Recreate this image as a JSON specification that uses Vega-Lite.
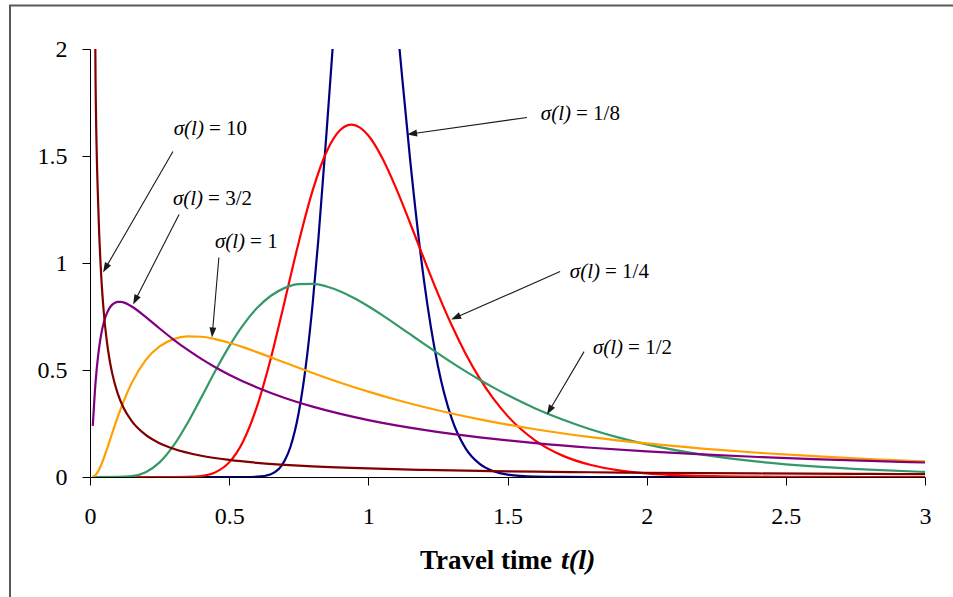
{
  "$schema": "https://vega.github.io/schema/vega-lite/v6.json",
  "autosize": {"type": "none"},
  "padding": {"left": 90, "top": 49, "right": 28, "bottom": 120},
  "width": 835,
  "height": 428,
  "background": "white",
  "config": {
    "view": {"stroke": null},
    "axis": {"grid": false, "domainColor": "black", "tickColor": "black", "tickSize": 8, "labelFont": "Liberation Serif", "labelFontSize": 24, "labelColor": "black", "domainWidth": 1, "tickWidth": 1, "labelFlush": false, "labelOverlap": false}
  },
  "datasets": {
    "frame": [{"x": -0.2874, "x2": 3.2, "y": 2.203, "y2": -0.7}],
    "curves": [
      {"s":"1/8","x":0.01,"y":0},{"s":"1/8","x":0.5,"y":0},{"s":"1/8","x":0.55,"y":0.00006},{"s":"1/8","x":0.6,"y":0.0013},{"s":"1/8","x":0.65,"y":0.0129},{"s":"1/8","x":0.7,"y":0.0778},{"s":"1/8","x":0.72,"y":0.1403},{"s":"1/8","x":0.75,"y":0.3012},{"s":"1/8","x":0.78,"y":0.5676},{"s":"1/8","x":0.8,"y":0.8108},{"s":"1/8","x":0.82,"y":1.1038},{"s":"1/8","x":0.85,"y":1.6126},{"s":"1/8","x":0.87,"y":1.9722},{"s":"1/8","x":0.88,"y":2.1499},{"s":"1/8","x":0.9,"y":2.486},{"s":"1/8","x":0.95,"y":3.0883},{"s":"1/8","x":1.0,"y":3.1915},{"s":"1/8","x":1.05,"y":2.8167},{"s":"1/8","x":1.08,"y":2.4449},{"s":"1/8","x":1.1,"y":2.1695},{"s":"1/8","x":1.12,"y":1.8893},{"s":"1/8","x":1.15,"y":1.4853},{"s":"1/8","x":1.2,"y":0.918},{"s":"1/8","x":1.25,"y":0.5189},{"s":"1/8","x":1.3,"y":0.2713},{"s":"1/8","x":1.35,"y":0.1325},{"s":"1/8","x":1.4,"y":0.0609},{"s":"1/8","x":1.45,"y":0.0265},{"s":"1/8","x":1.5,"y":0.011},{"s":"1/8","x":1.6,"y":0.0017},{"s":"1/8","x":1.7,"y":0.0002},{"s":"1/8","x":1.8,"y":0},{"s":"1/8","x":3.0,"y":0},
      {"s":"1/4","x":0.01,"y":0},{"s":"1/4","x":0.25,"y":0},{"s":"1/4","x":0.3,"y":0.00005},{"s":"1/4","x":0.35,"y":0.0007},{"s":"1/4","x":0.4,"y":0.0048},{"s":"1/4","x":0.45,"y":0.0216},{"s":"1/4","x":0.5,"y":0.0683},{"s":"1/4","x":0.55,"y":0.1663},{"s":"1/4","x":0.6,"y":0.3299},{"s":"1/4","x":0.65,"y":0.5561},{"s":"1/4","x":0.7,"y":0.8241},{"s":"1/4","x":0.75,"y":1.0974},{"s":"1/4","x":0.8,"y":1.3393},{"s":"1/4","x":0.85,"y":1.5198},{"s":"1/4","x":0.9,"y":1.6224},{"s":"1/4","x":0.94,"y":1.6464},{"s":"1/4","x":0.97,"y":1.6329},{"s":"1/4","x":1.0,"y":1.5958},{"s":"1/4","x":1.05,"y":1.4911},{"s":"1/4","x":1.1,"y":1.349},{"s":"1/4","x":1.15,"y":1.1869},{"s":"1/4","x":1.2,"y":1.0193},{"s":"1/4","x":1.25,"y":0.8571},{"s":"1/4","x":1.3,"y":0.7077},{"s":"1/4","x":1.35,"y":0.5751},{"s":"1/4","x":1.4,"y":0.4608},{"s":"1/4","x":1.45,"y":0.3647},{"s":"1/4","x":1.5,"y":0.2856},{"s":"1/4","x":1.6,"y":0.1704},{"s":"1/4","x":1.7,"y":0.0987},{"s":"1/4","x":1.8,"y":0.0559},{"s":"1/4","x":1.9,"y":0.0311},{"s":"1/4","x":2.0,"y":0.0171},{"s":"1/4","x":2.2,"y":0.005},{"s":"1/4","x":2.4,"y":0.0014},{"s":"1/4","x":2.6,"y":0.0004},{"s":"1/4","x":2.8,"y":0.0001},{"s":"1/4","x":3.0,"y":0},
      {"s":"1/2","x":0.01,"y":0},{"s":"1/2","x":0.1,"y":0.0002},{"s":"1/2","x":0.15,"y":0.004},{"s":"1/2","x":0.2,"y":0.0225},{"s":"1/2","x":0.25,"y":0.0683},{"s":"1/2","x":0.3,"y":0.1465},{"s":"1/2","x":0.35,"y":0.2515},{"s":"1/2","x":0.4,"y":0.3721},{"s":"1/2","x":0.45,"y":0.4953},{"s":"1/2","x":0.5,"y":0.6104},{"s":"1/2","x":0.55,"y":0.7098},{"s":"1/2","x":0.6,"y":0.7892},{"s":"1/2","x":0.65,"y":0.8469},{"s":"1/2","x":0.7,"y":0.8838},{"s":"1/2","x":0.75,"y":0.9016},{"s":"1/2","x":0.8,"y":0.9028},{"s":"1/2","x":0.85,"y":0.8904},{"s":"1/2","x":0.9,"y":0.8671},{"s":"1/2","x":0.95,"y":0.8355},{"s":"1/2","x":1.0,"y":0.7979},{"s":"1/2","x":1.05,"y":0.7563},{"s":"1/2","x":1.1,"y":0.7123},{"s":"1/2","x":1.15,"y":0.6672},{"s":"1/2","x":1.2,"y":0.6221},{"s":"1/2","x":1.25,"y":0.5778},{"s":"1/2","x":1.3,"y":0.5348},{"s":"1/2","x":1.35,"y":0.4936},{"s":"1/2","x":1.4,"y":0.4544},{"s":"1/2","x":1.45,"y":0.4175},{"s":"1/2","x":1.5,"y":0.3829},{"s":"1/2","x":1.6,"y":0.3206},{"s":"1/2","x":1.7,"y":0.2673},{"s":"1/2","x":1.8,"y":0.2221},{"s":"1/2","x":1.9,"y":0.1842},{"s":"1/2","x":2.0,"y":0.1526},{"s":"1/2","x":2.2,"y":0.1046},{"s":"1/2","x":2.4,"y":0.0718},{"s":"1/2","x":2.6,"y":0.0494},{"s":"1/2","x":2.8,"y":0.0342},{"s":"1/2","x":3.0,"y":0.0238},
      {"s":"1","x":0.01,"y":0.001},{"s":"1","x":0.02,"y":0.0095},{"s":"1","x":0.03,"y":0.0285},{"s":"1","x":0.04,"y":0.0562},{"s":"1","x":0.05,"y":0.0899},{"s":"1","x":0.06,"y":0.1271},{"s":"1","x":0.07,"y":0.166},{"s":"1","x":0.08,"y":0.2054},{"s":"1","x":0.1,"y":0.2816},{"s":"1","x":0.12,"y":0.3511},{"s":"1","x":0.15,"y":0.4398},{"s":"1","x":0.2,"y":0.5464},{"s":"1","x":0.25,"y":0.6104},{"s":"1","x":0.3,"y":0.6442},{"s":"1","x":0.35,"y":0.657},{"s":"1","x":0.4,"y":0.6554},{"s":"1","x":0.45,"y":0.6445},{"s":"1","x":0.5,"y":0.6275},{"s":"1","x":0.55,"y":0.6067},{"s":"1","x":0.6,"y":0.5836},{"s":"1","x":0.7,"y":0.5348},{"s":"1","x":0.8,"y":0.4864},{"s":"1","x":0.9,"y":0.4408},{"s":"1","x":1.0,"y":0.3989},{"s":"1","x":1.1,"y":0.361},{"s":"1","x":1.2,"y":0.327},{"s":"1","x":1.3,"y":0.2965},{"s":"1","x":1.4,"y":0.2693},{"s":"1","x":1.5,"y":0.245},{"s":"1","x":1.6,"y":0.2233},{"s":"1","x":1.8,"y":0.1865},{"s":"1","x":2.0,"y":0.1569},{"s":"1","x":2.2,"y":0.1329},{"s":"1","x":2.4,"y":0.1133},{"s":"1","x":2.6,"y":0.0972},{"s":"1","x":2.8,"y":0.0839},{"s":"1","x":3.0,"y":0.0727},
      {"s":"3/2","x":0.01,"y":0.2389},{"s":"3/2","x":0.02,"y":0.4435},{"s":"3/2","x":0.03,"y":0.5768},{"s":"3/2","x":0.04,"y":0.6652},{"s":"3/2","x":0.05,"y":0.7239},{"s":"3/2","x":0.06,"y":0.7634},{"s":"3/2","x":0.07,"y":0.7893},{"s":"3/2","x":0.08,"y":0.8055},{"s":"3/2","x":0.09,"y":0.8147},{"s":"3/2","x":0.1,"y":0.8187},{"s":"3/2","x":0.11,"y":0.8188},{"s":"3/2","x":0.12,"y":0.8161},{"s":"3/2","x":0.15,"y":0.7968},{"s":"3/2","x":0.2,"y":0.7479},{"s":"3/2","x":0.25,"y":0.694},{"s":"3/2","x":0.3,"y":0.6424},{"s":"3/2","x":0.35,"y":0.5948},{"s":"3/2","x":0.4,"y":0.5517},{"s":"3/2","x":0.45,"y":0.5129},{"s":"3/2","x":0.5,"y":0.4781},{"s":"3/2","x":0.6,"y":0.4183},{"s":"3/2","x":0.7,"y":0.3693},{"s":"3/2","x":0.8,"y":0.3288},{"s":"3/2","x":0.9,"y":0.2948},{"s":"3/2","x":1.0,"y":0.266},{"s":"3/2","x":1.1,"y":0.2413},{"s":"3/2","x":1.2,"y":0.22},{"s":"3/2","x":1.3,"y":0.2015},{"s":"3/2","x":1.4,"y":0.1852},{"s":"3/2","x":1.5,"y":0.171},{"s":"3/2","x":1.6,"y":0.1583},{"s":"3/2","x":1.8,"y":0.1368},{"s":"3/2","x":2.0,"y":0.1195},{"s":"3/2","x":2.2,"y":0.1053},{"s":"3/2","x":2.4,"y":0.0935},{"s":"3/2","x":2.6,"y":0.0835},{"s":"3/2","x":2.8,"y":0.0751},{"s":"3/2","x":3.0,"y":0.0678},
      {"s":"10","x":0.01,"y":3.588},{"s":"10","x":0.02,"y":1.848},{"s":"10","x":0.03,"y":1.2505},{"s":"10","x":0.04,"y":0.947},{"s":"10","x":0.05,"y":0.7629},{"s":"10","x":0.06,"y":0.6391},{"s":"10","x":0.07,"y":0.5501},{"s":"10","x":0.08,"y":0.483},{"s":"10","x":0.1,"y":0.3885},{"s":"10","x":0.12,"y":0.3251},{"s":"10","x":0.15,"y":0.2612},{"s":"10","x":0.2,"y":0.1969},{"s":"10","x":0.25,"y":0.1581},{"s":"10","x":0.3,"y":0.132},{"s":"10","x":0.4,"y":0.0993},{"s":"10","x":0.5,"y":0.0796},{"s":"10","x":0.6,"y":0.0664},{"s":"10","x":0.7,"y":0.057},{"s":"10","x":0.8,"y":0.0499},{"s":"10","x":1.0,"y":0.0399},{"s":"10","x":1.2,"y":0.0332},{"s":"10","x":1.4,"y":0.0285},{"s":"10","x":1.6,"y":0.0249},{"s":"10","x":1.8,"y":0.0221},{"s":"10","x":2.0,"y":0.0199},{"s":"10","x":2.4,"y":0.0166},{"s":"10","x":2.8,"y":0.0142},{"s":"10","x":3.0,"y":0.0132}
    ],
    "arrows": [
      {"s":"10","x":0.298,"y":1.521,"x2":0.0557,"y2":0.976,"ang":210},
      {"s":"3/2","x":0.320,"y":1.227,"x2":0.163,"y2":0.827,"ang":207},
      {"s":"1","x":0.463,"y":1.026,"x2":0.440,"y2":0.675,"ang":185},
      {"s":"1/8","x":1.570,"y":1.680,"x2":1.157,"y2":1.604,"ang":262},
      {"s":"1/4","x":1.689,"y":0.960,"x2":1.314,"y2":0.745,"ang":246},
      {"s":"1/2","x":1.775,"y":0.586,"x2":1.651,"y2":0.312,"ang":210}
    ],
    "labels": [
      {"x":0.420,"y":1.624,"a":"σ(l)","b":"= 10"},
      {"x":0.417,"y":1.297,"a":"σ(l)","b":"= 3/2"},
      {"x":0.568,"y":1.096,"a":"σ(l)","b":"= 1"},
      {"x":1.739,"y":1.694,"a":"σ(l)","b":"= 1/8"},
      {"x":1.843,"y":0.960,"a":"σ(l)","b":"= 1/4"},
      {"x":1.926,"y":0.605,"a":"σ(l)","b":"= 1/2"}
    ],
    "xtitle": [{"x":1.671,"y":-0.4276,"a":"Travel time","b":"t(l)"}]
  },
  "layer": [
    {
      "data": {"name": "frame"},
      "mark": {"type": "rect", "fill": null, "fillOpacity": 0, "stroke": "#595959", "strokeWidth": 2, "clip": false},
      "encoding": {
        "x": {"field": "x", "type": "quantitative", "title": null},
        "x2": {"field": "x2"},
        "y": {"field": "y", "type": "quantitative", "title": null},
        "y2": {"field": "y2"}
      }
    },
    {
      "data": {"name": "curves"},
      "mark": {"type": "line", "strokeWidth": 2.2, "interpolate": "monotone", "clip": true},
      "encoding": {
        "x": {"field": "x", "type": "quantitative", "title": null, "scale": {"domain": [0, 3], "nice": false, "zero": false}, "axis": {"values": [0, 0.5, 1, 1.5, 2, 2.5, 3], "format": "~g", "labelPadding": 19, "title": null}},
        "y": {"field": "y", "type": "quantitative", "title": null, "scale": {"domain": [0, 2], "nice": false}, "axis": {"values": [0, 0.5, 1, 1.5, 2], "format": "~g", "labelPadding": 15, "title": null}},
        "color": {"field": "s", "type": "nominal", "legend": null, "sort": ["1/8", "1/4", "1/2", "1", "3/2", "10"], "scale": {"domain": ["1/8", "1/4", "1/2", "1", "3/2", "10"], "range": ["#000080", "#FF0000", "#339966", "#FFA000", "#800080", "#800000"]}}
      }
    },
    {
      "data": {"name": "arrows"},
      "mark": {"type": "rule", "color": "#1a1a1a", "strokeWidth": 1.1},
      "encoding": {
        "x": {"field": "x", "type": "quantitative", "title": null},
        "y": {"field": "y", "type": "quantitative", "title": null},
        "x2": {"field": "x2"},
        "y2": {"field": "y2"}
      }
    },
    {
      "data": {"name": "arrows"},
      "mark": {"type": "point", "shape": "M0,-1L0.7,1L-0.7,1Z", "filled": true, "color": "#1a1a1a", "size": 100, "opacity": 1},
      "encoding": {
        "x": {"field": "x2", "type": "quantitative", "title": null},
        "y": {"field": "y2", "type": "quantitative", "title": null},
        "angle": {"field": "ang", "type": "quantitative", "scale": null}
      }
    },
    {
      "data": {"name": "labels"},
      "mark": {"type": "text", "font": "Liberation Serif", "fontSize": 21, "fontStyle": "italic", "align": "right", "baseline": "middle", "dx": -3, "color": "black"},
      "encoding": {
        "x": {"field": "x", "type": "quantitative", "title": null},
        "y": {"field": "y", "type": "quantitative", "title": null},
        "text": {"field": "a"}
      }
    },
    {
      "data": {"name": "labels"},
      "mark": {"type": "text", "font": "Liberation Serif", "fontSize": 21, "align": "left", "baseline": "middle", "dx": 2, "color": "black"},
      "encoding": {
        "x": {"field": "x", "type": "quantitative", "title": null},
        "y": {"field": "y", "type": "quantitative", "title": null},
        "text": {"field": "b"}
      }
    },
    {
      "data": {"name": "xtitle"},
      "mark": {"type": "text", "font": "Liberation Serif", "fontSize": 27, "fontWeight": "bold", "align": "right", "baseline": "alphabetic", "dx": -3, "color": "black", "clip": false},
      "encoding": {
        "x": {"field": "x", "type": "quantitative", "title": null},
        "y": {"field": "y", "type": "quantitative", "title": null},
        "text": {"field": "a"}
      }
    },
    {
      "data": {"name": "xtitle"},
      "mark": {"type": "text", "font": "Liberation Serif", "fontSize": 28, "fontWeight": "bold", "fontStyle": "italic", "align": "left", "baseline": "alphabetic", "dx": 6, "color": "black", "clip": false},
      "encoding": {
        "x": {"field": "x", "type": "quantitative", "title": null},
        "y": {"field": "y", "type": "quantitative", "title": null},
        "text": {"field": "b"}
      }
    }
  ]
}
